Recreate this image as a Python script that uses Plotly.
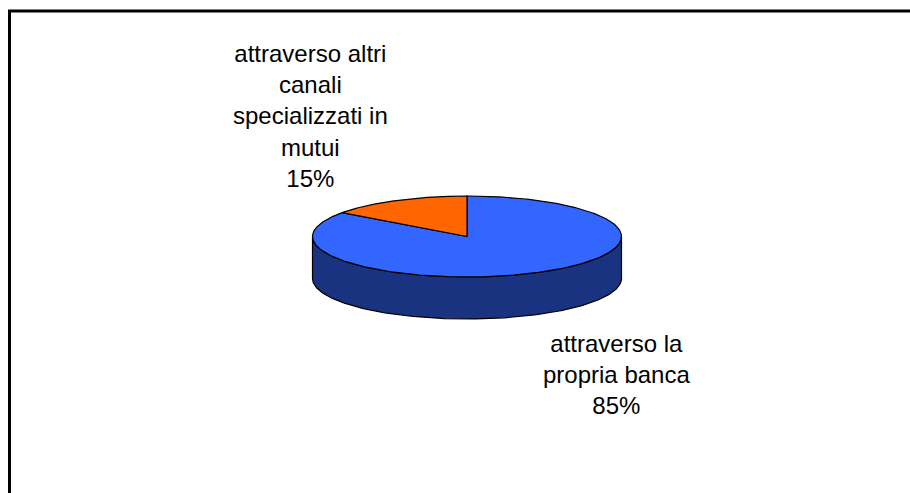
import numpy as np
import plotly.graph_objects as go

# Share of mortgage channels
categories = ["attraverso la propria banca", "attraverso altri canali specializzati in mutui"]
values = [85, 15]
label_texts = ["attraverso la<br>propria banca<br>85%",
               "attraverso altri<br>canali<br>specializzati in<br>mutui<br>15%"]

top_colors = ["#3366FF", "#FF6600"]
side_colors = ["#1A3380", "#803300"]

W, H = 910, 493
# 3D pie geometry in pixel space (y grows downward)
CX, CY = 467.0, 236.5
RX, RY = 154.5, 40.5
DEPTH = 42.0


def rim(theta, dy=0.0):
    """Point on the ellipse rim; theta measured clockwise from 12 o'clock."""
    return CX + RX * np.sin(theta), CY - RY * np.cos(theta) + dy


fig = go.Figure()

total = float(sum(values))
bounds = np.concatenate([[0.0], np.cumsum(values) / total * 2 * np.pi])

# side walls: only the front half of the rim (3 o'clock to 9 o'clock) is visible
for i in range(len(values)):
    a0, a1 = bounds[i], bounds[i + 1]
    s0, s1 = max(a0, np.pi / 2), min(a1, 3 * np.pi / 2)
    if s1 <= s0:
        continue
    t = np.linspace(s0, s1, 200)
    xt, yt = rim(t)
    xb, yb = rim(t[::-1], DEPTH)
    fig.add_trace(go.Scatter(
        x=np.concatenate([xt, xb, xt[:1]]), y=np.concatenate([yt, yb, yt[:1]]),
        mode="lines", fill="toself", fillcolor=side_colors[i],
        line=dict(color="black", width=1.2), hoverinfo="skip", showlegend=False))

# top faces of the slices
for i in range(len(values)):
    a0, a1 = bounds[i], bounds[i + 1]
    t = np.linspace(a0, a1, 400)
    xs, ys = rim(t)
    fig.add_trace(go.Scatter(
        x=np.concatenate([[CX], xs, [CX]]), y=np.concatenate([[CY], ys, [CY]]),
        mode="lines", fill="toself", fillcolor=top_colors[i],
        line=dict(color="black", width=1.2), name=categories[i],
        hoverinfo="name", showlegend=False))

label_pos = [(616, 374), (310, 116)]
for txt, (lx, ly) in zip(label_texts, label_pos):
    fig.add_annotation(x=lx, y=ly, text=txt, showarrow=False,
                       xanchor="center", yanchor="middle", align="center",
                       font=dict(family="Liberation Sans, Arial", size=24, color="black"))

# chart area frame
fig.add_shape(type="rect", x0=9.5, y0=11, x1=W + 20, y1=H + 20,
              line=dict(color="black", width=3), fillcolor="rgba(0,0,0,0)")

fig.update_xaxes(range=[0, W], visible=False, fixedrange=True)
fig.update_yaxes(range=[H, 0], visible=False, fixedrange=True)
fig.update_layout(width=W, height=H, margin=dict(l=0, r=0, t=0, b=0),
                  paper_bgcolor="white", plot_bgcolor="white")

fig.write_html("out.html")
